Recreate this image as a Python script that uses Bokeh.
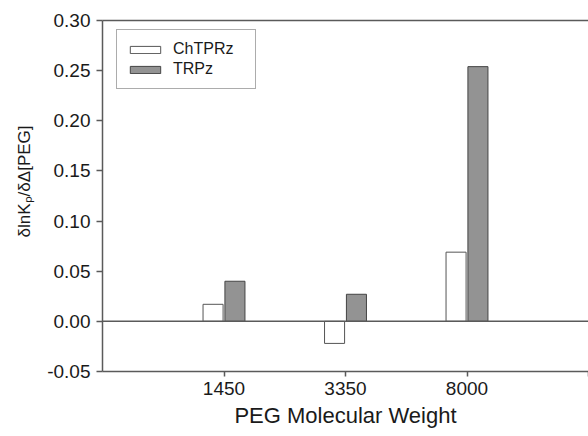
from bokeh.plotting import figure
from bokeh.models import (Range1d, FixedTicker, NumeralTickFormatter, Span, LinearAxis,
                          Legend, LegendItem, ColumnDataSource, Title)
from bokeh.transform import dodge
from bokeh.embed import file_html
from bokeh.resources import INLINE

categories = ["1450", "3350", "8000"]
chtprz = [0.017, -0.022, 0.069]
trpz = [0.040, 0.027, 0.254]
y_ticks = [-0.05, 0.00, 0.05, 0.10, 0.15, 0.20, 0.25, 0.30]
series_names = ["ChTPRz", "TRPz"]
x_title = "PEG Molecular Weight"
y_title = "δlnKₚ/δΔ[PEG]"

positions = list(range(1, len(categories) + 1))
src = ColumnDataSource(dict(x=positions, a=chtprz, b=trpz))

FONT = "Liberation Sans"
AX = "#5a5a5a"
TXT = "#1a1a1a"

p = figure(width=588, height=436, output_backend="svg", toolbar_location=None,
           x_range=Range1d(0, len(categories) + 1), y_range=Range1d(y_ticks[0], y_ticks[-1]),
           min_border_left=102, min_border_top=20, min_border_right=0, min_border_bottom=65,
           background_fill_color="white", border_fill_color="white")
p.outline_line_color = None
p.xgrid.visible = False
p.ygrid.visible = False

r1 = p.vbar(x=dodge('x', -0.09), top='a', bottom=0, width=0.165, source=src,
            fill_color="white", line_color="#555555", line_width=1)
r2 = p.vbar(x=dodge('x', 0.09), top='b', bottom=0, width=0.165, source=src,
            fill_color="#939393", line_color="#444444", line_width=1)

p.add_layout(Span(location=0, dimension="width", line_color=AX, line_width=1.5))

# x axis
xa = p.xaxis[0]
xa.ticker = FixedTicker(ticks=positions + [len(categories) + 1])
xa.major_label_overrides = {pos: lab for pos, lab in zip(positions, categories)} | {len(categories) + 1: ""}
xa.axis_label = x_title
xa.minor_tick_line_color = None
xa.major_tick_in = 0
xa.major_tick_out = 5
xa.major_label_standoff = 5
xa.axis_label_standoff = 5

# y axis
ya = p.yaxis[0]
ya.ticker = FixedTicker(ticks=y_ticks)
ya.formatter = NumeralTickFormatter(format="0.00")
ya.minor_tick_line_color = None
ya.major_tick_in = 0
ya.major_tick_out = 6
ya.major_label_standoff = 6

for ax in (xa, ya):
    ax.axis_line_color = AX
    ax.axis_line_width = 1.5
    ax.major_tick_line_color = AX
    ax.major_tick_line_width = 1.5
    ax.major_label_text_font = FONT
    ax.major_label_text_font_size = "19px"
    ax.major_label_text_color = TXT
    ax.axis_label_text_font = FONT
    ax.axis_label_text_font_size = "22px"
    ax.axis_label_text_font_style = "normal"
    ax.axis_label_text_color = TXT

# y title as a side title so it can sit slightly above the frame centre, as in the original
p.add_layout(Title(text=y_title, align="right", offset=105, standoff=22,
                   text_font=FONT, text_font_size="17px", text_font_style="normal",
                   text_color=TXT), "left")

top_ax = LinearAxis(ticker=FixedTicker(ticks=[]), axis_line_color=AX, axis_line_width=1.5,
                    major_tick_line_color=None, minor_tick_line_color=None,
                    major_label_text_font_size="0px")
p.add_layout(top_ax, "above")

legend = Legend(items=[LegendItem(label=series_names[0], renderers=[r1]),
                       LegendItem(label=series_names[1], renderers=[r2])],
                location=(14, 282), orientation="vertical",
                label_text_font=FONT, label_text_font_size="16px", label_text_color=TXT,
                glyph_width=38, glyph_height=9, label_height=20, label_width=73,
                label_standoff=9, padding=9, spacing=0, margin=0,
                border_line_color=AX, border_line_width=1, background_fill_alpha=1)
p.add_layout(legend)

open("out.html", "w").write(file_html(p, INLINE))
